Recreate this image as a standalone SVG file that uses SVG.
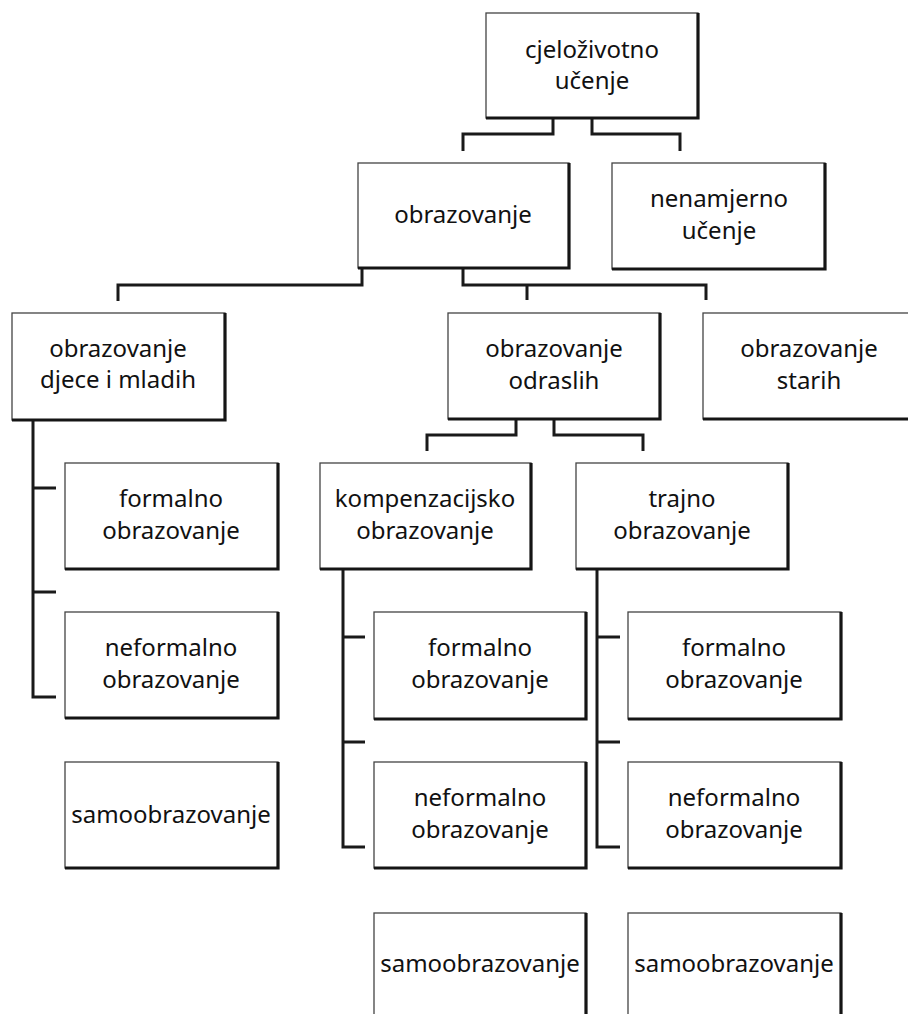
<svg xmlns="http://www.w3.org/2000/svg" width="908" height="1014" viewBox="0 0 908 1014">
<style>
.bx{fill:#fff;stroke:#444;stroke-width:1.3}
.sh{fill:none;stroke:#151515;stroke-width:3.2}
.cn{fill:none;stroke:#1a1a1a;stroke-width:3}
text{font-family:"Noto Sans","Open Sans","DejaVu Sans",sans-serif;font-size:24px;fill:#111;text-anchor:middle}
</style>
<rect width="908" height="1014" fill="#fff"/>
<g id="connectors">
<path class="cn" d="M553,118 V134 H463 V151 M592,118 V134 H680 V151"/>
<path class="cn" d="M362,268 V285 H118 V301 M463,268 V285 H706 V300 M527,285 V300"/>
<path class="cn" d="M516,419 V435 H427 V451 M554,419 V435 H643 V451"/>
<path class="cn" d="M33,420 V697 H56 M33,488 H56 M33,592 H56"/>
<path class="cn" d="M343,569 V847 H365 M343,637 H365 M343,742 H365"/>
<path class="cn" d="M597,569 V847 H620 M597,637 H620 M597,742 H620"/>
</g>
<g id="n-cjelozivotno"><rect class="bx" x="486" y="13" width="212" height="105"/><path class="sh" d="M698,13 V118 H486"/><text x="592" y="58">cjeloživotno</text><text x="592" y="89">učenje</text></g>
<g id="n-obrazovanje"><rect class="bx" x="358" y="163" width="211" height="105"/><path class="sh" d="M569,163 V268 H358"/><text x="463" y="223">obrazovanje</text></g>
<g id="n-nenamjerno"><rect class="bx" x="612" y="163" width="213" height="106"/><path class="sh" d="M825,163 V269 H612"/><text x="719" y="207">nenamjerno</text><text x="719" y="239">učenje</text></g>
<g id="n-djece"><rect class="bx" x="12" y="313" width="213" height="107"/><path class="sh" d="M225,313 V420 H12"/><text x="118" y="357">obrazovanje</text><text x="118" y="388">djece i mladih</text></g>
<g id="n-odraslih"><rect class="bx" x="448" y="313" width="212" height="106"/><path class="sh" d="M660,313 V419 H448"/><text x="554" y="357">obrazovanje</text><text x="554" y="389">odraslih</text></g>
<g id="n-starih"><rect class="bx" x="703" y="313" width="212" height="106"/><path class="sh" d="M915,313 V419 H703"/><text x="809" y="357">obrazovanje</text><text x="809" y="389">starih</text></g>
<g id="n-l-formalno"><rect class="bx" x="65" y="463" width="213" height="106"/><path class="sh" d="M278,463 V569 H65"/><text x="171" y="507">formalno</text><text x="171" y="539">obrazovanje</text></g>
<g id="n-l-neformalno"><rect class="bx" x="65" y="612" width="213" height="106"/><path class="sh" d="M278,612 V718 H65"/><text x="171" y="656">neformalno</text><text x="171" y="688">obrazovanje</text></g>
<g id="n-l-samo"><rect class="bx" x="65" y="762" width="213" height="106"/><path class="sh" d="M278,762 V868 H65"/><text x="171" y="823">samoobrazovanje</text></g>
<g id="n-kompenzacijsko"><rect class="bx" x="320" y="463" width="211" height="106"/><path class="sh" d="M531,463 V569 H320"/><text x="425" y="507">kompenzacijsko</text><text x="425" y="539">obrazovanje</text></g>
<g id="n-trajno"><rect class="bx" x="576" y="463" width="212" height="106"/><path class="sh" d="M788,463 V569 H576"/><text x="682" y="507">trajno</text><text x="682" y="539">obrazovanje</text></g>
<g id="n-k-formalno"><rect class="bx" x="374" y="612" width="212" height="107"/><path class="sh" d="M586,612 V719 H374"/><text x="480" y="656">formalno</text><text x="480" y="688">obrazovanje</text></g>
<g id="n-k-neformalno"><rect class="bx" x="374" y="762" width="212" height="106"/><path class="sh" d="M586,762 V868 H374"/><text x="480" y="806">neformalno</text><text x="480" y="838">obrazovanje</text></g>
<g id="n-k-samo"><rect class="bx" x="374" y="913" width="212" height="110"/><path class="sh" d="M586,913 V1023 H374"/><text x="480" y="972">samoobrazovanje</text></g>
<g id="n-t-formalno"><rect class="bx" x="628" y="612" width="213" height="107"/><path class="sh" d="M841,612 V719 H628"/><text x="734" y="656">formalno</text><text x="734" y="688">obrazovanje</text></g>
<g id="n-t-neformalno"><rect class="bx" x="628" y="762" width="213" height="106"/><path class="sh" d="M841,762 V868 H628"/><text x="734" y="806">neformalno</text><text x="734" y="838">obrazovanje</text></g>
<g id="n-t-samo"><rect class="bx" x="628" y="913" width="213" height="110"/><path class="sh" d="M841,913 V1023 H628"/><text x="734" y="972">samoobrazovanje</text></g>
</svg>
